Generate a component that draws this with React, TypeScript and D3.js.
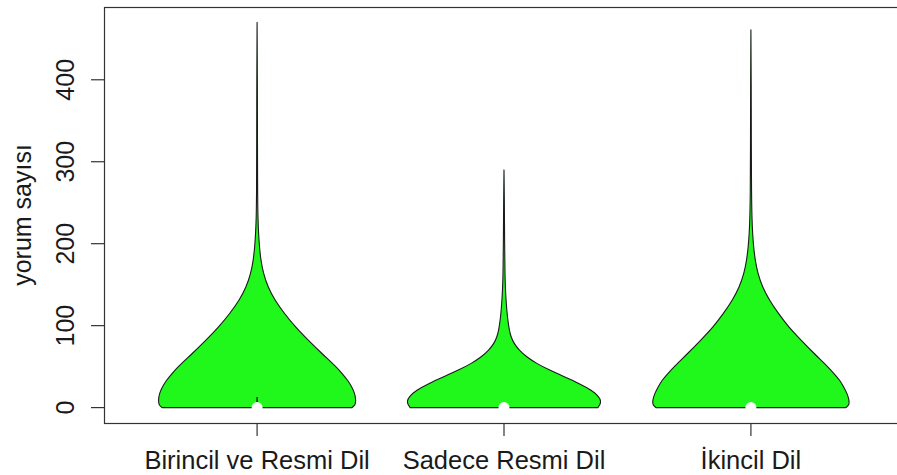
import React from "react";
import * as d3 from "d3";

// Categories
const categories = ["Birincil ve Resmi Dil", "Sadece Resmi Dil", "İkincil Dil"];

// Density profiles (value on y, relative half-width 0..1)
const g1Values = [0, 3, 9, 17, 25, 33, 41, 50, 66, 82, 98, 115, 131, 147, 164, 180, 196, 213, 229, 260, 320, 400, 470];
const g1Dens = [0.96, 0.995, 1.0, 0.99, 0.96, 0.92, 0.865, 0.8, 0.655, 0.52, 0.39, 0.275, 0.18, 0.11, 0.063, 0.038, 0.024, 0.015, 0.009, 0.005, 0.004, 0.003, 0];

const g2Values = [0, 4, 8, 13, 21, 29.5, 37.6, 45.7, 54, 62, 70, 78.6, 86, 94.5, 111, 127, 143, 160, 200, 250, 290];
const g2Dens = [0.95, 0.975, 0.98, 0.965, 0.89, 0.76, 0.61, 0.46, 0.327, 0.227, 0.153, 0.1, 0.072, 0.053, 0.034, 0.023, 0.015, 0.01, 0.006, 0.004, 0];

const g3Values = [0, 3, 9, 17, 25, 33.5, 41, 50, 66, 82, 98.5, 115, 131, 147, 164, 180, 196, 213, 229, 260, 320, 400, 461];
const g3Dens = [0.96, 0.995, 0.995, 0.975, 0.94, 0.9, 0.845, 0.777, 0.64, 0.51, 0.38, 0.277, 0.187, 0.117, 0.069, 0.043, 0.027, 0.017, 0.011, 0.006, 0.004, 0.003, 0];

const medians = [0, 0, 0];
const upperWhiskers = [13, 0, 0];
const yTicks = [0, 100, 200, 300, 400];

const W = 897;
const H = 475;
const FONT = "'Liberation Sans', Arial, Helvetica, sans-serif";
const FILL = "#1ff81a";

export default function App() {
  const groups = [
    { v: g1Values, d: g1Dens },
    { v: g2Values, d: g2Dens },
    { v: g3Values, d: g3Dens },
  ];
  const yMax = d3.max(groups.flatMap((g) => g.v)) as number;
  const yMin = 0;
  const ext = (yMax - yMin) * 0.04;
  const plotTop = 7;
  const plotBottom = 423;
  const plotLeft = 104;
  const plotRight = 904;

  const y = d3.scaleLinear().domain([yMin - ext, yMax + ext]).range([plotBottom, plotTop]);
  const xExt = 3 * 0.04;
  const x = d3.scaleLinear().domain([0.5 - xExt, 3.5 + xExt]).range([plotLeft, plotRight]);
  const halfWidth = 0.4; // wex/2 in data units

  return (
    <svg width={W} height={H} style={{ position: "absolute", left: 0, top: 0, background: "#fff" }}>
      {/* violins */}
      {groups.map((g, i) => {
        const c = i + 1;
        const pts: [number, number][] = g.v.map((v, k) => [v, g.d[k]]);
        const side = d3.line<[number, number]>().curve(d3.curveBasis);
        const leftPts: [number, number][] = pts.map((p) => [x(c - p[1] * halfWidth), y(p[0])]);
        const rightPts: [number, number][] = pts
          .slice()
          .reverse()
          .map((p) => [x(c + p[1] * halfWidth), y(p[0])]);
        const dLeft = side(leftPts) || "";
        const dRight = (side(rightPts) || "").replace(/^M/, "L");
        const d = dLeft + dRight + "Z";
        return (
          <g key={i}>
            <path d={d} fill={FILL} stroke="#1a1a1a" strokeWidth={1.1} strokeLinejoin="round" />
            {upperWhiskers[i] > 0 && (
              <line x1={x(c)} x2={x(c)} y1={y(medians[i])} y2={y(upperWhiskers[i])} stroke="#000" strokeWidth={1.2} />
            )}
            <circle cx={x(c)} cy={y(medians[i])} r={5.5} fill="#fff" />
          </g>
        );
      })}

      {/* box */}
      <rect x={plotLeft + 0.5} y={plotTop + 0.5} width={plotRight - plotLeft} height={plotBottom - plotTop} fill="none" stroke="#333" strokeWidth={1.2} />

      {/* y axis */}
      {yTicks.map((t) => (
        <g key={t}>
          <line x1={plotLeft - 13} x2={plotLeft} y1={y(t)} y2={y(t)} stroke="#333" strokeWidth={1.2} />
          <text
            transform={`translate(74,${y(t)}) rotate(-90)`}
            textAnchor="middle"
            fontFamily={FONT}
            fontSize={25}
            fill="#1a1a1a"
          >
            {t}
          </text>
        </g>
      ))}
      <text
        transform={`translate(31,${(plotTop + plotBottom) / 2}) rotate(-90)`}
        textAnchor="middle"
        fontFamily={FONT}
        fontSize={25}
        fill="#1a1a1a"
      >
        yorum sayısı
      </text>

      {/* x axis */}
      {categories.map((cat, i) => (
        <g key={cat}>
          <line x1={x(i + 1)} x2={x(i + 1)} y1={plotBottom} y2={plotBottom + 13} stroke="#333" strokeWidth={1.2} />
          <text x={x(i + 1)} y={469} textAnchor="middle" fontFamily={FONT} fontSize={25.5} fill="#1a1a1a">
            {cat}
          </text>
        </g>
      ))}
    </svg>
  );
}
